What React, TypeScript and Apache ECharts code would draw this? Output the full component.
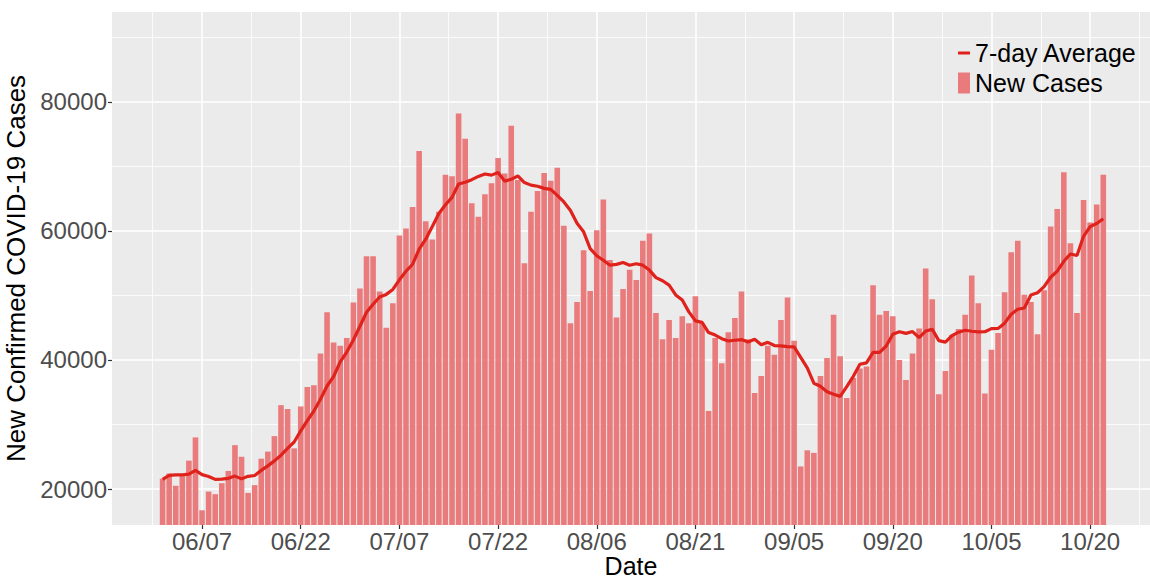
import React, { useEffect, useRef } from "react";
import * as echarts from "echarts";

// Daily new confirmed cases, 06/01 .. 10/22
const newCases = [
  // June
  21600, 22400, 20500, 22000, 24400, 28000, 16700, 19600, 19200, 20900,
  22800, 26800, 25000, 19400, 20600, 24700, 25800, 28200, 33000, 32400,
  26300, 32800, 35800, 36100, 41000, 47400, 42700, 42200, 43400, 48900,
  // July
  51100, 56100, 56100, 50600, 45000, 48800, 59300, 60400, 63700, 72400,
  61500, 58700, 63000, 68700, 68500, 78200, 74300, 64300, 62200, 65700,
  67400, 71300, 68900, 76300, 67900, 55000, 63000, 66200, 69000, 67800,
  69800,
  // August
  60800, 45700, 49000, 57000, 50700, 60100, 64900, 55500, 46600, 51000,
  54000, 52400, 58500, 59600, 47300, 43200, 46200, 43400, 46800, 45700,
  49900, 45700, 32100, 43400, 39500, 44300, 46500, 50600, 43200, 34900,
  37500,
  // September
  42200, 40800, 46200, 49700, 43000, 23500, 26000, 25600, 37500, 40300,
  47000, 40600, 34100, 37200, 38700, 39000, 51600, 47000, 47600, 46800,
  40000, 36900, 41000, 44900, 54200, 49400, 34700, 38300, 43900, 44800,
  // October
  47000, 53100, 48800, 34800, 41600, 44200, 50500, 56700, 58500, 50100,
  49000, 44000, 50800, 60700, 63400, 69100, 58100, 47300, 64800, 61300,
  64100, 68700,
];

// 7-day average line
const avg7 = [
  // June
  21500, 22100, 22200, 22200, 22300, 22900, 22230, 21940, 21490, 21540,
  21660, 22000, 21570, 21960, 22100, 22890, 23590, 24360, 25240, 26300,
  27290, 29030, 30610, 32090, 33910, 35970, 37440, 39710, 41230, 43100,
  // July
  45240, 47400, 48640, 49770, 50170, 50940, 52430, 53760, 54840, 57170,
  58730, 60690, 62710, 64060, 65210, 67290, 67560, 67960, 68460, 68840,
  68660, 69060, 67730, 68010, 68530, 67500, 67110, 66940, 66610, 66460,
  65530,
  // August
  64510, 63190, 61190, 59870, 57260, 56160, 55460, 54700, 54830, 55110,
  54690, 54930, 54700, 53940, 52770, 52290, 51600, 50090, 49290, 47460,
  46070, 45840, 44260, 43860, 43300, 42940, 43060, 43160, 42800, 43200,
  42360,
  // September
  42740, 42240, 42200, 42070, 42040, 40410, 38770, 36400, 35930, 35090,
  34700, 34360, 35870, 37470, 39340, 39560, 41170, 41170, 42170, 43990,
  44390, 44130, 44410, 43460, 44490, 44740, 43010, 42770, 43770, 44310,
  // October
  44610, 44460, 44370, 44390, 44860, 44900, 45710, 47100, 47870, 48060,
  50090, 50430, 51370, 52830, 53790, 55300, 56440, 56200, 59170, 60670,
  61160, 61910,
];

const xTickLabels = ["06/07", "06/22", "07/07", "07/22", "08/06", "08/21", "09/05", "09/20", "10/05", "10/20"];
const yTickValues = [20000, 40000, 60000, 80000];
const yMinorValues = [30000, 50000, 70000, 90000];

const pad = (n: number) => (n < 10 ? "0" + n : "" + n);
const dates = newCases.map((_, i) => {
  const d = new Date(2020, 5, 1 + i);
  return pad(d.getMonth() + 1) + "/" + pad(d.getDate());
});

export default function App() {
  const ref = useRef<HTMLDivElement>(null);

  useEffect(() => {
    if (!ref.current) return;
    const chart = echarts.init(ref.current, null, { renderer: "svg" });

    const xMajor = xTickLabels.map((l) => dates.indexOf(l));
    const xMinor: number[] = [xMajor[0] - 7.5];
    for (let k = 0; k < xMajor.length; k++) xMinor.push(xMajor[k] + 7.5);

    const white = (w: number) => ({ color: "#FFFFFF", width: w, type: "solid" as const });
    const gridLines = [
      ...xMajor.map((x) => ({ xAxis: x, lineStyle: white(1.6) })),
      ...xMinor.map((x) => ({ xAxis: x, lineStyle: white(0.8) })),
      ...yTickValues.map((y) => ({ yAxis: y, lineStyle: white(1.6) })),
      ...yMinorValues.map((y) => ({ yAxis: y, lineStyle: white(0.8) })),
    ];

    const font = "'Liberation Sans', Arial, sans-serif";

    chart.setOption({
      animation: false,
      grid: {
        left: 112,
        right: 0,
        top: 12,
        bottom: 54,
        show: true,
        containLabel: false,
        outerBoundsMode: "none",
        backgroundColor: "#EBEBEB",
        borderWidth: 0,
      },
      legend: {
        orient: "vertical",
        left: 958,
        top: 40,
        itemWidth: 12,
        itemHeight: 21,
        itemGap: 4,
        padding: 0,
        selectedMode: false,
        textStyle: { fontSize: 25, color: "#000000", fontFamily: font, lineHeight: 26 },
        data: [
          { name: "7-day Average", icon: "path://M0 0H12V3H0Z" },
          { name: "New Cases", icon: "rect" },
        ],
      },
      xAxis: {
        type: "value",
        min: -7.69,
        max: 150.1,
        name: "Date",
        nameLocation: "middle",
        nameGap: 30,
        nameMoveOverlap: false,
        nameTextStyle: { fontSize: 25, lineHeight: 22, color: "#000000", fontFamily: font },
        axisLine: { show: false, onZero: false },
        splitLine: { show: false },
        axisTick: {
          show: true,
          length: 4,
          lineStyle: { color: "#333333", width: 1.2 },
          customValues: xMajor,
        },
        axisLabel: {
          customValues: xMajor,
          formatter: (v: number) => dates[Math.round(v)],
          fontSize: 24,
          lineHeight: 24,
          color: "#4D4D4D",
          fontFamily: font,
          margin: 4,
        },
      },
      yAxis: {
        type: "value",
        min: 14420,
        max: 93950,
        name: "New Confirmed COVID-19 Cases",
        nameLocation: "middle",
        nameGap: 77,
        nameTextStyle: { fontSize: 26, color: "#000000", fontFamily: font },
        axisLine: { show: false, onZero: false },
        splitLine: { show: false },
        axisTick: {
          show: true,
          length: 4,
          lineStyle: { color: "#333333", width: 1.2 },
          customValues: yTickValues,
        },
        axisLabel: {
          customValues: yTickValues,
          formatter: (v: number) => String(Math.round(v)),
          fontSize: 24,
          color: "#4D4D4D",
          fontFamily: font,
          margin: 5,
        },
      },
      series: [
        {
          name: "7-day Average",
          type: "line",
          data: avg7.map((v, i) => [i, v]),
          showSymbol: false,
          symbol: "none",
          lineStyle: { color: "#E0221C", width: 3.2 },
          itemStyle: { color: "#E0221C" },
          z: 4,
          silent: true,
        },
        {
          name: "New Cases",
          type: "bar",
          data: newCases.map((v, i) => [i, v]),
          barWidth: 5.6,
          itemStyle: { color: "#EA7B7C" },
          z: 2,
          silent: true,
          markLine: {
            silent: true,
            symbol: ["none", "none"],
            z: 1,
            label: { show: false },
            emphasis: { disabled: true },
            lineStyle: { type: "solid", color: "#FFFFFF" },
            data: gridLines,
          },
        },
      ],
    });

    return () => chart.dispose();
  }, []);

  return (
    <div
      ref={ref}
      style={{ position: "fixed", left: 0, top: 0, width: 1150, height: 579, background: "#FFFFFF" }}
    />
  );
}
